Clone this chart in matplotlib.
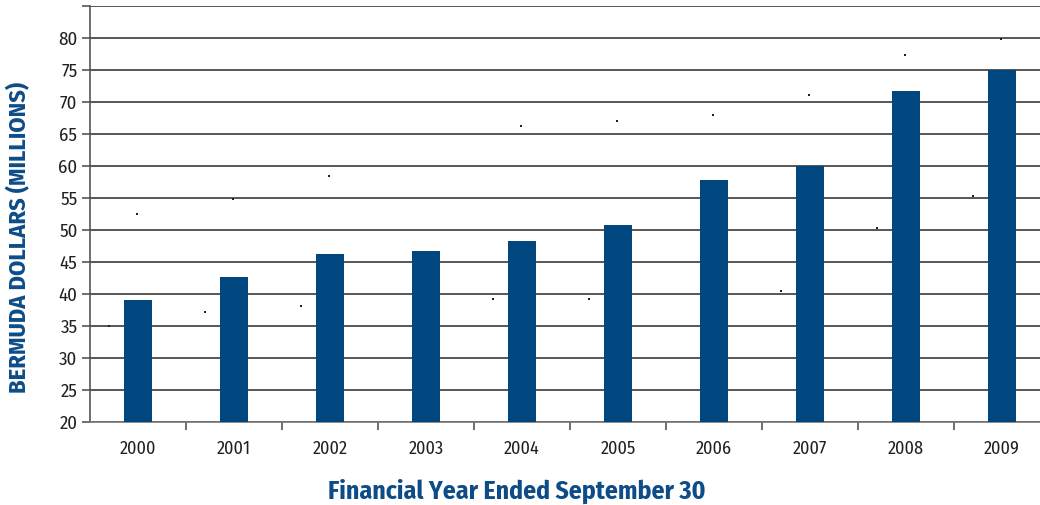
import numpy as np
import matplotlib
matplotlib.use("Agg")
import matplotlib.pyplot as plt

# condensed face, DejaVu's condensed cut as the fallback
plt.rcParams['font.family'] = ['Fira Sans Condensed', 'DejaVu Sans']
plt.rcParams['font.stretch'] = 'condensed'

years = ["2000", "2001", "2002", "2003", "2004", "2005", "2006", "2007", "2008", "2009"]
revenue = [39.1, 42.7, 46.3, 46.7, 48.3, 50.8, 57.8, 60.0, 71.7, 75.0]

# stray little dots left in the original artwork
dots_high = [52.5, 54.8, 58.4, np.nan, 66.3, 67.0, 68.0, 71.1, 77.3, 79.8]
dots_low = [35.0, 37.2, 38.1, np.nan, 39.2, 39.2, np.nan, 40.5, 50.3, 55.3]

BAR_COLOR = "#00467f"
TITLE_COLOR = "#0d4c87"
TEXT_COLOR = "#231f20"

fig = plt.figure(figsize=(10.4, 5.05), dpi=100)
ax = fig.add_axes([90 / 1040, 83 / 505, 960 / 1040, 416 / 505])

x = np.arange(len(years))
ax.bar(x, revenue, width=0.30, color=BAR_COLOR, zorder=3)
ax.scatter(x - 0.01, dots_high, s=1.5, color="#222222", marker="s", zorder=4, linewidths=0)
ax.scatter(x - 0.30, dots_low, s=1.5, color="#222222", marker="s", zorder=4, linewidths=0)

ax.set_xlim(-0.5, len(years) - 0.5)
ax.set_ylim(20, 85)
ax.set_yticks(range(20, 86, 5))
ax.set_yticklabels([str(v) if v <= 80 else "" for v in range(20, 86, 5)])
ax.yaxis.grid(True, color="#3d3835", linewidth=1.2, zorder=0)
ax.set_axisbelow(True)

# category labels centred, ticks on the boundaries
ax.set_xticks(x)
ax.set_xticklabels(years)
ax.set_xticks(np.arange(0.5, len(years) - 0.5, 1), minor=True)
ax.tick_params(axis="x", which="major", length=0, pad=13, labelsize=13, labelcolor=TEXT_COLOR)
ax.tick_params(axis="x", which="minor", length=6, width=1.2, color="#555555", direction="out")
ax.tick_params(axis="y", length=6, width=1.2, color="#555555", labelsize=13.5,
               labelcolor=TEXT_COLOR, pad=3)

for side in ["top", "right"]:
    ax.spines[side].set_visible(False)
ax.spines["left"].set_color("#555555")
ax.spines["left"].set_linewidth(1.2)
ax.spines["bottom"].set_color("#777777")
ax.spines["bottom"].set_linewidth(1.2)

fig.text(0.497, 0.026, "Financial Year Ended September 30", ha="center", va="center",
         fontsize=18.5, fontweight="bold", color=TITLE_COLOR)
fig.text(0.018, 0.529, "BERMUDA DOLLARS (MILLIONS)", ha="center", va="center",
         rotation=90, fontsize=17.5, fontweight="bold", color=TITLE_COLOR)

fig.savefig("out.png", dpi=100)
